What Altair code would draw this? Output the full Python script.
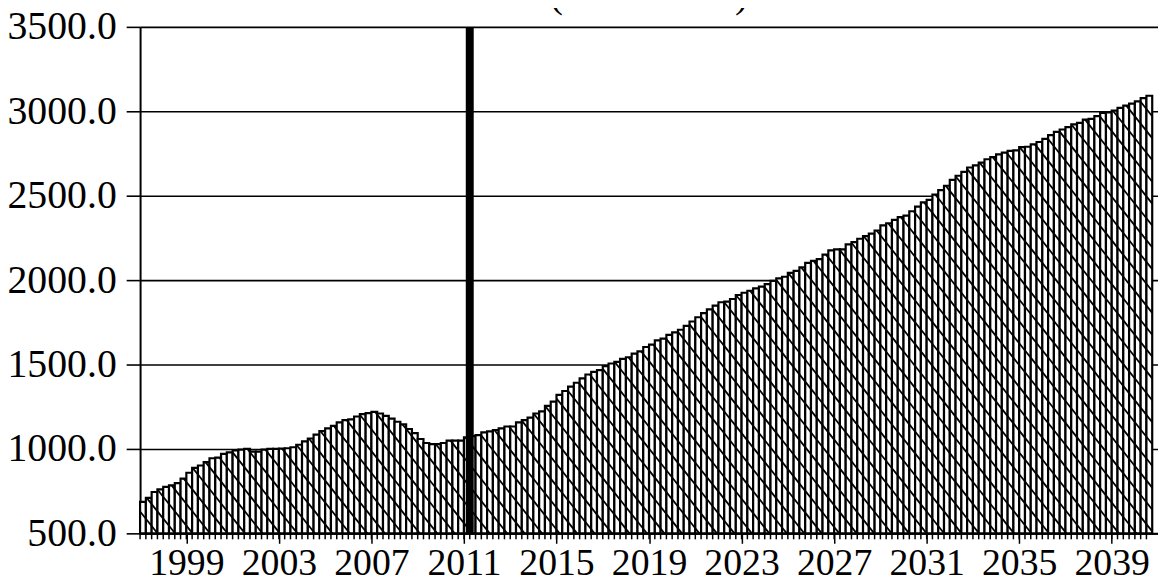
import altair as alt
import pandas as pd

# ---- data (quarterly, 1997Q1 .. 2040Q4) ----
start_year = 1997
values = [
    686, 710, 745, 761, 775, 784, 798, 824, 859, 888,
    902, 922, 945, 949, 971, 980, 992, 996, 1000, 984,
    984, 996, 1000, 1000, 1002, 1004, 1010, 1025, 1045, 1062,
    1085, 1105, 1122, 1137, 1157, 1171, 1175, 1192, 1206, 1212,
    1220, 1210, 1196, 1180, 1161, 1145, 1118, 1094, 1059, 1035,
    1029, 1029, 1035, 1049, 1049, 1049, 1069, 1076,
    1082, 1098, 1104, 1112, 1122, 1133, 1133, 1157, 1171, 1186,
    1210, 1222, 1255, 1280, 1320, 1343, 1369, 1392, 1418, 1441,
    1457, 1467, 1490, 1506, 1516, 1533, 1543, 1565, 1578, 1604,
    1618, 1643, 1653, 1676, 1690, 1706, 1729, 1755, 1780, 1804,
    1827, 1849, 1869, 1873, 1888, 1912, 1925, 1937, 1951, 1961,
    1976, 1996, 2010, 2020, 2043, 2055, 2075, 2102, 2114,
    2124, 2151, 2176, 2182, 2182, 2212, 2225, 2245, 2261, 2275,
    2294, 2324, 2337, 2357, 2373, 2382, 2408, 2435, 2461, 2475,
    2506, 2533, 2559, 2594, 2618, 2641, 2667, 2680, 2696, 2716,
    2729, 2745, 2755, 2765, 2769, 2788, 2790, 2804, 2818, 2837,
    2859, 2878, 2892, 2906, 2922, 2931, 2951, 2955, 2971, 2990,
    2994, 3004, 3020, 3033, 3045, 3059, 3078, 3092,
]
tick_years = [1999, 2003, 2007, 2011, 2015, 2019, 2023, 2027, 2031, 2035, 2039]
y_ticks = [500, 1000, 1500, 2000, 2500, 3000, 3500]
marker_year = [2011.25]
title_text = ["(Thousands)"]

# ---- layout ----
W, H = 1025, 510
x_dom = [1997, 2041]
y_dom = [500, 3500]
FONT = "Times New Roman, Liberation Serif, Tinos, DejaVu Serif, serif"

n = len(values)
bars = pd.DataFrame({
    "t0": [start_year + i / 4 for i in range(n)],
    "t1": [start_year + (i + 1) / 4 for i in range(n)],
    "v": values,
    "base": [y_dom[0]] * n,
})

# ---- hatch pattern ("\" lines, continuous across bars) ----
px_per_year = W / (x_dom[1] - x_dom[0])
units_per_px = (y_dom[1] - y_dom[0]) / H
slope_px = 1.25                          # screen slope of the hatch lines
S = px_per_year * units_per_px * slope_px  # value drop per year
spacing = 22 * units_per_px              # vertical spacing of hatch lines
rows = []
for t0, t1, v in zip(bars.t0, bars.t1, bars.v):
    for k in range(0, 120):
        b = y_dom[0] + k * spacing
        lo = x_dom[0] + (b - v) / S
        hi = x_dom[0] + (b - y_dom[0]) / S
        ta, tb = max(t0, lo), min(t1, hi)
        if tb - ta > 1e-6:
            rows.append({
                "ta": ta, "tb": tb,
                "va": b - S * (ta - x_dom[0]),
                "vb": b - S * (tb - x_dom[0]),
            })
hatch = pd.DataFrame(rows)

xs = alt.Scale(domain=x_dom, nice=False, zero=False)
ys = alt.Scale(domain=y_dom, nice=False, zero=False)

bar_layer = alt.Chart(bars).mark_bar(
    fill="white", stroke="black", strokeWidth=2.2
).encode(
    x=alt.X("t0:Q", scale=xs, title=None,
            axis=alt.Axis(values=tick_years, format="d", grid=False,
                          tickSize=10, tickWidth=1.5, tickColor="black",
                          domainColor="black", domainWidth=2,
                          labelFont=FONT, labelFontSize=38, labelColor="black",
                          labelPadding=1, labelOverlap=False, labelFlush=False)),
    x2="t1:Q",
    y=alt.Y("v:Q", scale=ys, title=None,
            axis=alt.Axis(values=y_ticks, format=".1f", grid=True,
                          gridColor="black", gridWidth=1.6, gridOpacity=1,
                          tickSize=14, tickWidth=1.6, tickColor="black",
                          domainColor="black", domainWidth=2,
                          labelFont=FONT, labelFontSize=40, labelColor="black",
                          labelPadding=10, labelOverlap=False, labelFlush=False)),
    y2="base:Q",
)

hatch_layer = alt.Chart(hatch).mark_rule(color="black", strokeWidth=1.8).encode(
    x=alt.X("ta:Q", scale=xs, title=None),
    x2="tb:Q",
    y=alt.Y("va:Q", scale=ys, title=None),
    y2="vb:Q",
)

minor_ticks = alt.Chart(bars).mark_rule(color="black", strokeWidth=1.5).encode(
    x=alt.X("t0:Q", scale=xs, title=None),
    y=alt.value(H),
    y2=alt.value(H + 6),
)

marker = alt.Chart(pd.DataFrame({"t": marker_year})).mark_rule(
    color="black", strokeWidth=8
).encode(x=alt.X("t:Q", scale=xs, title=None))

title = alt.Chart(pd.DataFrame({"s": title_text})).mark_text(
    font=FONT, fontSize=40, align="center", baseline="alphabetic", color="black"
).encode(text="s:N", x=alt.value(W / 2), y=alt.value(-20))

chart = alt.layer(bar_layer, hatch_layer, minor_ticks, marker, title).properties(
    width=W, height=H,
    autosize=alt.AutoSizeParams(type="none"),
    padding={"left": 133, "top": 17, "right": 0, "bottom": 50},
    background="white",
).configure_view(stroke=None)

chart.save("out.html", embed_options={"renderer": "svg", "actions": False})
